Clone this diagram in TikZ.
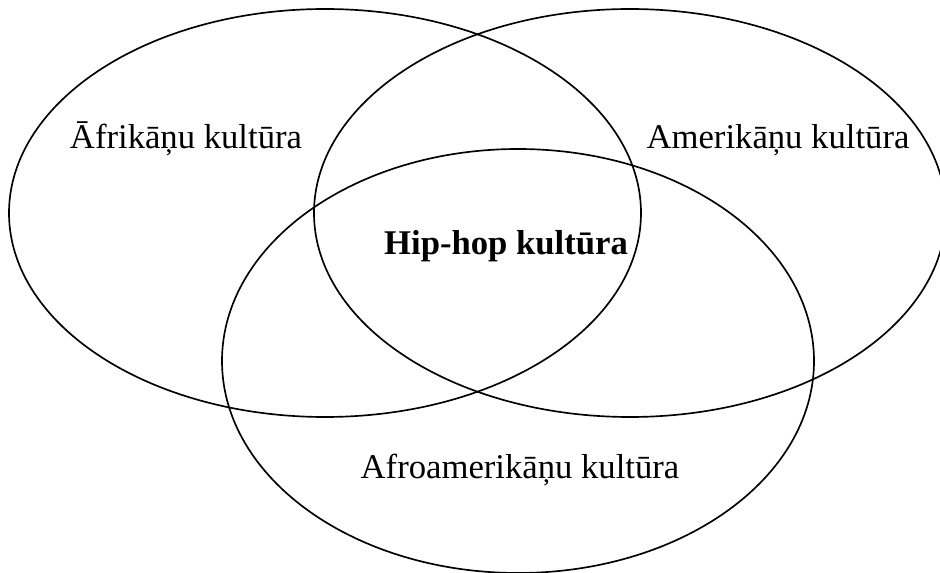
\documentclass[tikz,border=0pt]{standalone}
\usepackage{fontspec}
\setmainfont{Liberation Serif}
\begin{document}
\begin{tikzpicture}[x=0.75pt, y=-0.75pt, line width=1.25pt,
  label/.style={anchor=base, inner sep=0pt, font=\fontsize{26}{31}\selectfont}]

\useasboundingbox (0,0) rectangle (940,573);
\clip (0,0) rectangle (940,573);

\draw[black] (325,213) ellipse [x radius=316, y radius=204];
\draw[black] (630,213) ellipse [x radius=316, y radius=204];
\draw[black] (518,361) ellipse [x radius=296, y radius=212];

\node[label] (afr) at (186,149) {Āfrikāņu kultūra};
\node[label] (amer) at (778,149) {Amerikāņu kultūra};
\node[label, font=\fontsize{26}{31}\selectfont\bfseries] (hiphop) at (506,255) {Hip-hop kultūra};
\node[label] (afroam) at (520,479) {Afroamerikāņu kultūra};
\end{tikzpicture}
\end{document}
